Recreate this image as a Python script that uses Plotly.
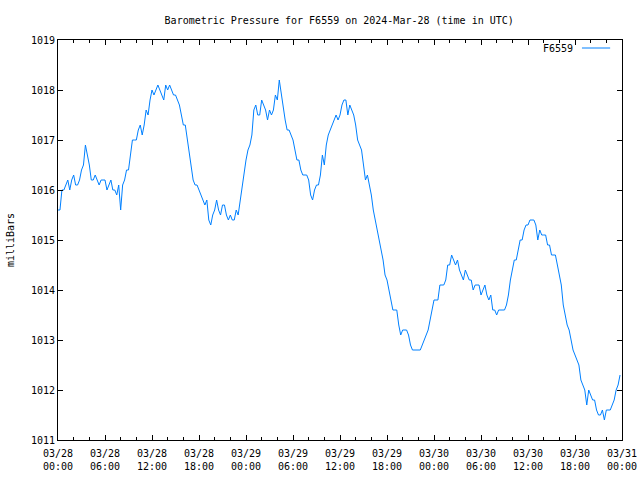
import pandas as pd
import plotly.graph_objects as go

# Barometric pressure (mbar), 15-minute samples, one list per 6 hours (UTC)
p_28_00 = [1015.6, 1015.6, 1016.0, 1016.0, 1016.1, 1016.2, 1016.0, 1016.2, 1016.3, 1016.1, 1016.1, 1016.2,
           1016.4, 1016.5, 1016.9, 1016.7, 1016.5, 1016.2, 1016.2, 1016.3, 1016.2, 1016.1, 1016.2, 1016.2]
p_28_06 = [1016.2, 1016.0, 1016.1, 1016.2, 1016.0, 1016.0, 1015.9, 1016.1, 1015.6, 1016.1, 1016.2, 1016.4,
           1016.4, 1016.7, 1017.0, 1017.0, 1017.0, 1017.2, 1017.3, 1017.1, 1017.3, 1017.6, 1017.5, 1017.8]
p_28_12 = [1018.0, 1017.9, 1018.0, 1018.1, 1018.0, 1017.9, 1017.8, 1018.1, 1018.0, 1018.1, 1018.0, 1017.9,
           1017.9, 1017.8, 1017.7, 1017.5, 1017.3, 1017.3, 1017.0, 1016.8, 1016.5, 1016.2, 1016.1, 1016.1]
p_28_18 = [1016.0, 1015.9, 1015.8, 1015.7, 1015.8, 1015.4, 1015.3, 1015.5, 1015.6, 1015.8, 1015.6, 1015.5,
           1015.7, 1015.7, 1015.5, 1015.4, 1015.5, 1015.4, 1015.4, 1015.6, 1015.5, 1015.8, 1016.0, 1016.3]
p_29_00 = [1016.6, 1016.8, 1016.9, 1017.1, 1017.6, 1017.7, 1017.5, 1017.5, 1017.8, 1017.7, 1017.6, 1017.4,
           1017.6, 1017.5, 1017.6, 1017.9, 1017.8, 1018.2, 1017.9, 1017.7, 1017.4, 1017.2, 1017.2, 1017.1]
p_29_06 = [1017.0, 1016.8, 1016.6, 1016.6, 1016.4, 1016.3, 1016.3, 1016.3, 1016.2, 1015.9, 1015.8, 1016.0,
           1016.1, 1016.1, 1016.3, 1016.7, 1016.5, 1016.9, 1017.1, 1017.2, 1017.3, 1017.4, 1017.5, 1017.4]
p_29_12 = [1017.5, 1017.7, 1017.8, 1017.8, 1017.5, 1017.7, 1017.6, 1017.5, 1017.3, 1017.0, 1016.9, 1016.8,
           1016.5, 1016.2, 1016.3, 1016.1, 1015.9, 1015.6, 1015.4, 1015.2, 1015.0, 1014.8, 1014.6, 1014.3]
p_29_18 = [1014.2, 1014.0, 1013.8, 1013.6, 1013.6, 1013.6, 1013.3, 1013.1, 1013.2, 1013.2, 1013.2, 1013.1,
           1012.9, 1012.8, 1012.8, 1012.8, 1012.8, 1012.8, 1012.9, 1013.0, 1013.1, 1013.2, 1013.4, 1013.6]
p_30_00 = [1013.8, 1013.8, 1013.8, 1014.1, 1014.1, 1014.1, 1014.2, 1014.5, 1014.5, 1014.7, 1014.6, 1014.5,
           1014.6, 1014.4, 1014.3, 1014.2, 1014.4, 1014.3, 1014.2, 1014.2, 1014.0, 1014.1, 1014.1, 1014.1]
p_30_06 = [1013.9, 1014.0, 1014.1, 1013.9, 1013.8, 1013.9, 1013.6, 1013.6, 1013.5, 1013.6, 1013.6, 1013.6,
           1013.6, 1013.7, 1013.9, 1014.2, 1014.4, 1014.6, 1014.6, 1014.8, 1015.0, 1015.0, 1015.2, 1015.3]
p_30_12 = [1015.3, 1015.4, 1015.4, 1015.4, 1015.3, 1015.0, 1015.2, 1015.1, 1015.1, 1015.1, 1014.9, 1014.9,
           1014.7, 1014.7, 1014.7, 1014.5, 1014.3, 1014.1, 1013.7, 1013.5, 1013.3, 1013.2, 1013.0, 1012.8]
p_30_18 = [1012.7, 1012.6, 1012.5, 1012.2, 1012.1, 1012.0, 1011.7, 1012.0, 1011.9, 1011.8, 1011.8, 1011.6,
           1011.5, 1011.5, 1011.6, 1011.4, 1011.6, 1011.6, 1011.6, 1011.7, 1011.8, 1012.0, 1012.1, 1012.3]

pressure = (p_28_00 + p_28_06 + p_28_12 + p_28_18 + p_29_00 + p_29_06 +
            p_29_12 + p_29_18 + p_30_00 + p_30_06 + p_30_12 + p_30_18)
times = pd.date_range("2024-03-28 00:00", periods=len(pressure), freq="15min")

station = "F6559"
title_text = "Barometric Pressure for F6559 on 2024-Mar-28 (time in UTC)"
y_label = "milliBars"
x_range = ["2024-03-28 00:00", "2024-03-31 00:00"]
y_range = [1011, 1019]

FONT = "DejaVu Sans Mono"
LINE_COLOR = "#0080ff"

fig = go.Figure()
fig.add_trace(go.Scatter(x=times, y=pressure, mode="lines",
                         line=dict(color=LINE_COLOR, width=1), name=station,
                         showlegend=False))

axis_common = dict(showline=True, linecolor="black", linewidth=1, mirror="allticks",
                   ticks="inside", tickcolor="black", ticklen=5, tickwidth=1,
                   showgrid=False, zeroline=False, automargin=False,
                   tickfont=dict(family=FONT, size=10, color="black"))

fig.update_xaxes(type="date", range=x_range, tick0="2024-03-28 00:00",
                 dtick=6 * 3600 * 1000, tickformat="%m/%d<br>%H:%M",
                 ticklabelstandoff=4,
                 minor=dict(ticks="inside", ticklen=3, tickcolor="black",
                            dtick=2 * 3600 * 1000, showgrid=False),
                 **axis_common)
fig.update_yaxes(range=y_range, dtick=1, tickformat="d", **axis_common)

fig.update_layout(
    width=640, height=480,
    margin=dict(l=58, r=18, t=40, b=40),
    paper_bgcolor="white", plot_bgcolor="white",
    showlegend=False,
    font=dict(family=FONT, size=10, color="black"),
    title=dict(text=title_text, x=0.53, xanchor="center", y=0.958, yanchor="middle",
               font=dict(family=FONT, size=10, color="black")),
)

# y-axis label
fig.add_annotation(text=y_label, textangle=-90, xref="paper", yref="paper",
                   x=-0.085, y=0.5, xanchor="center", yanchor="middle", showarrow=False,
                   font=dict(family=FONT, size=10, color="black"))

# gnuplot-style key: text followed by line sample, top right inside the plot
fig.add_annotation(text=station, xref="paper", yref="paper", x=0.917, y=0.98,
                   xanchor="right", yanchor="middle", showarrow=False,
                   font=dict(family=FONT, size=10, color="black"))
fig.add_shape(type="line", xref="paper", yref="paper", x0=0.929, x1=0.979,
              y0=0.98, y1=0.98, line=dict(color=LINE_COLOR, width=1))

fig.write_html("out.html")
